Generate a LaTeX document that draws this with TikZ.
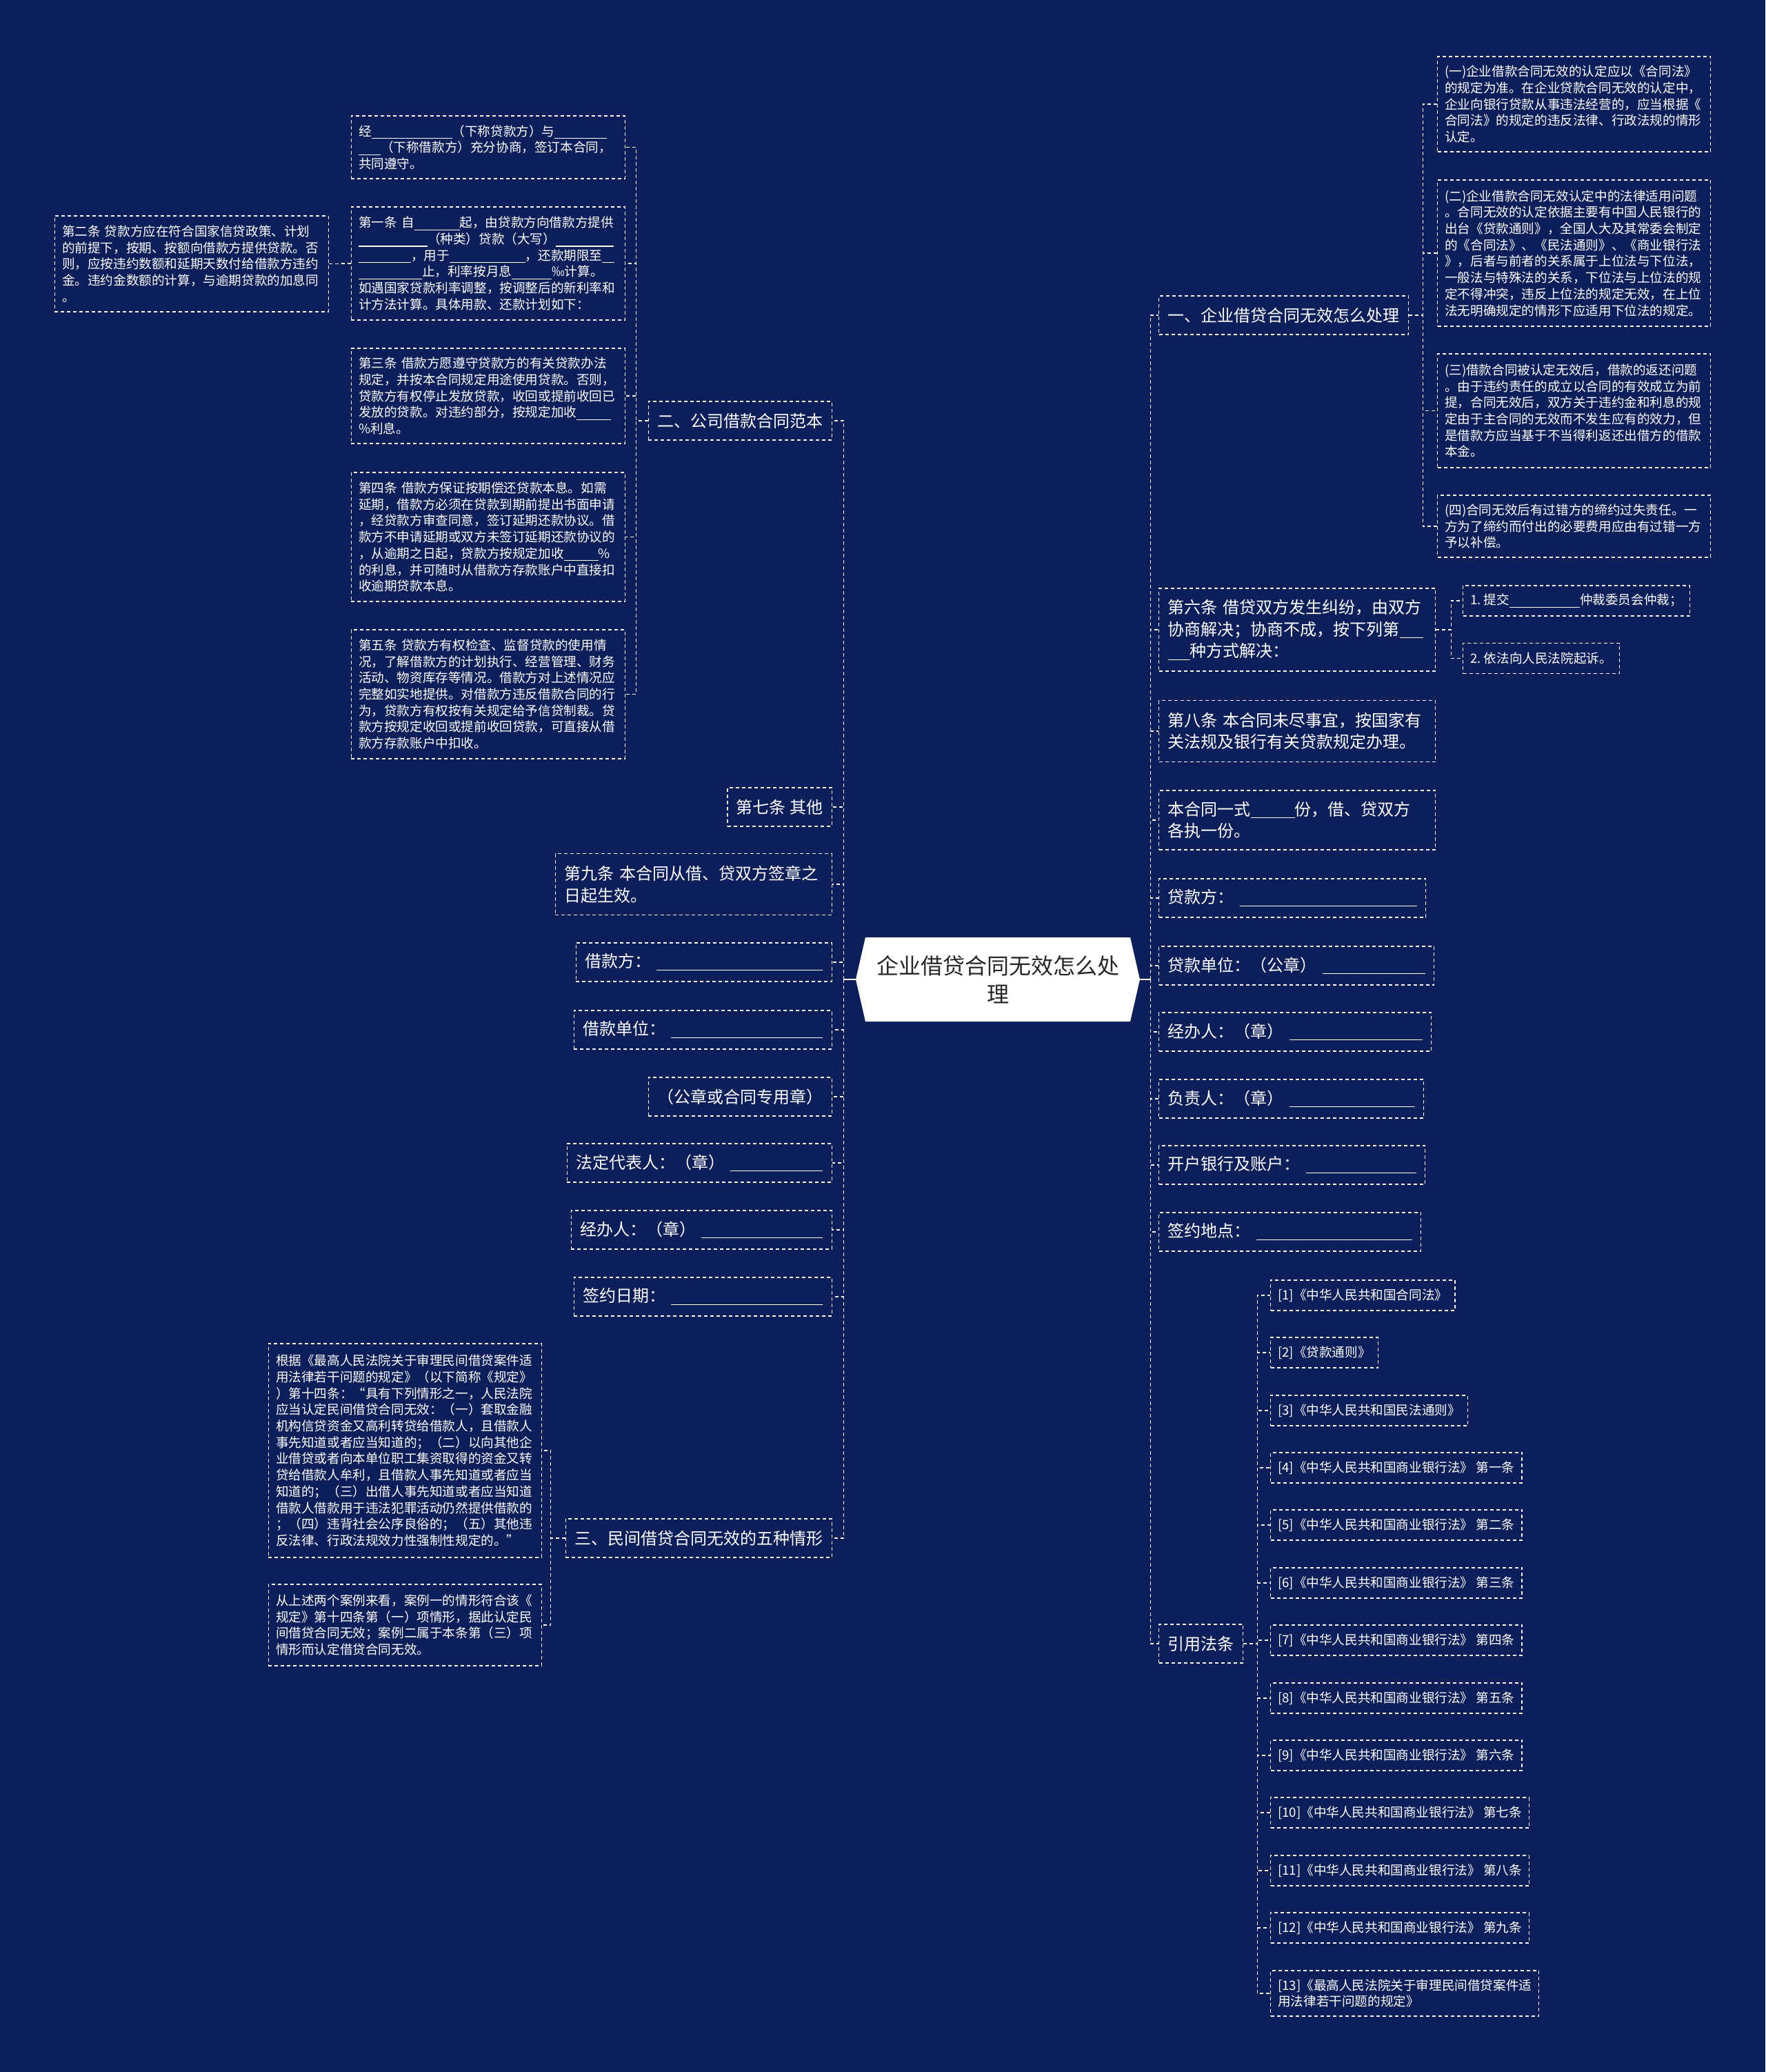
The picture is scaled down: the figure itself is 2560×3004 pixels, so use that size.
\documentclass[tikz,border=0pt]{standalone}
\usepackage{fontspec}
\setmainfont{Noto Sans CJK SC}
\usepackage{xcolor}
\usepackage{tikz}
\usetikzlibrary{positioning,calc}
\definecolor{bgnavy}{RGB}{12,31,91}
\colorlet{rootink}{black!85}
\tikzstyle{rootbox}=[text=rootink,font=\fontsize{16}{20.8}\selectfont,align=center,minimum width=206pt,minimum height=61pt,inner sep=0pt]
\tikzstyle{topic}=[draw=white,text=white,line width=0.7pt,dash pattern=on 2.5pt off 2pt,font=\fontsize{12}{15.8}\selectfont,inner xsep=6.5pt,inner ysep=3pt,minimum height=28pt,align=left]
\tikzstyle{note}=[draw=white,text=white,line width=0.6pt,dash pattern=on 2.5pt off 2pt,font=\fontsize{9.3}{11.85}\selectfont,inner xsep=5.3pt,inner ysep=3pt,align=left]
\tikzstyle{refitem}=[note,anchor=west,minimum height=22pt]
\tikzstyle{link}=[white,line width=0.7pt,dash pattern=on 2.5pt off 2pt]
\tikzstyle{stub}=[white,line width=1pt]
\newcommand{\lineblank}[1]{\rule[-2pt]{#1}{0.6pt}}
\newcommand{\linefill}{\hspace{4pt}\leaders\hrule height -1.6pt depth 2.2pt\hskip 0pt plus 1fill\hbox{}}

\begin{document}
\begin{tikzpicture}[x=0.5pt,y=-0.5pt]
	\fill[bgnavy] (0,0) rectangle (2560,3004);
	\useasboundingbox (0,0) rectangle (2560,3004);
	% centre
	\fill[white] (1241,1420) -- (1255,1359) -- (1639,1359) -- (1653,1420) -- (1639,1481) -- (1255,1481) -- cycle;
	\node[rootbox] (root) at (1447,1420) {企业借贷合同无效怎么处\\理};
	% left branch
	\node[topic,anchor=east] (tpl) at (1207,610) {二、公司借款合同范本};
	\node[note,anchor=east,text width=187.9pt,minimum height=45.5pt] (tplA) at (907,213.5) {经\lineblank{58.5pt}（下称贷款方）与\lineblank{38pt}\\\lineblank{16pt}（下称借款方）充分协商，签订本合同，\\共同遵守。};
	\node[note,anchor=east,text width=187.9pt,minimum height=82pt] (art1) at (907,382) {第一条~自\lineblank{33pt}起，由贷款方向借款方提供\\\lineblank{50pt}（种类）贷款（大写）\lineblank{42pt}\\\lineblank{38pt}，用于\lineblank{55pt}，还款期限至\lineblank{9pt}\\\lineblank{46pt}止，利率按月息\lineblank{29pt}‰计算。\\如遇国家贷款利率调整，按调整后的新利率和\\计方法计算。具体用款、还款计划如下：};
	\node[note,anchor=east,text width=187.9pt,minimum height=69.5pt] (art2) at (477,382.5) {第二条~贷款方应在符合国家信贷政策、计划\\的前提下，按期、按额向借款方提供贷款。否\\则，应按违约数额和延期天数付给借款方违约\\金。违约金数额的计算，与逾期贷款的加息同\\。};
	\node[note,anchor=east,text width=187.9pt,minimum height=69pt] (art3) at (907,574) {第三条~借款方愿遵守贷款方的有关贷款办法\\规定，并按本合同规定用途使用贷款。否则，\\贷款方有权停止发放贷款，收回或提前收回已\\发放的贷款。对违约部分，按规定加收\lineblank{25pt}\\\%利息。};
	\node[note,anchor=east,text width=187.9pt,minimum height=93.5pt] (art4) at (907,778.5) {第四条~借款方保证按期偿还贷款本息。如需\\延期，借款方必须在贷款到期前提出书面申请\\，经贷款方审查同意，签订延期还款协议。借\\款方不申请延期或双方未签订延期还款协议的\\，从逾期之日起，贷款方按规定加收\lineblank{25pt}\%\\的利息，并可随时从借款方存款账户中直接扣\\收逾期贷款本息。};
	\node[note,anchor=east,text width=187.9pt,minimum height=93.5pt] (art5) at (907,1006.5) {第五条~贷款方有权检查、监督贷款的使用情\\况，了解借款方的计划执行、经营管理、财务\\活动、物资库存等情况。借款方对上述情况应\\完整如实地提供。对借款方违反借款合同的行\\为，贷款方有权按有关规定给予信贷制裁。贷\\款方按规定收回或提前收回贷款，可直接从借\\款方存款账户中扣收。};
	\node[topic,anchor=east] (art7) at (1207,1170) {第七条~其他};
	\node[topic,anchor=east,text width=187.5pt,minimum height=44.5pt] (art9) at (1207,1282) {第九条~本合同从借、贷双方签章之\\日起生效。};
	\node[topic,anchor=east,text width=172.5pt] (borrower) at (1207,1395) {借款方：\linefill};
	\node[topic,anchor=east,text width=174pt] (bunit) at (1207,1493) {借款单位：\linefill};
	\node[topic,anchor=east] (seal) at (1207,1590) {（公章或合同专用章）};
	\node[topic,anchor=east,text width=179pt] (legal) at (1207,1686) {法定代表人：（章）\linefill};
	\node[topic,anchor=east,text width=176pt] (bagent) at (1207,1783) {经办人：（章）\linefill};
	\node[topic,anchor=east,text width=174pt] (bdate) at (1207,1880) {签约日期：\linefill};
	\node[topic,anchor=east] (five) at (1207,2230) {三、民间借贷合同无效的五种情形};
	\node[note,anchor=east,text width=187.4pt,minimum height=155pt] (fiveA) at (786,2103) {根据《最高人民法院关于审理民间借贷案件适\\用法律若干问题的规定》（以下简称《规定》\\）第十四条：“具有下列情形之一，人民法院\\应当认定民间借贷合同无效：（一）套取金融\\机构信贷资金又高利转贷给借款人，且借款人\\事先知道或者应当知道的；（二）以向其他企\\业借贷或者向本单位职工集资取得的资金又转\\贷给借款人牟利，且借款人事先知道或者应当\\知道的；（三）出借人事先知道或者应当知道\\借款人借款用于违法犯罪活动仍然提供借款的\\；（四）违背社会公序良俗的；（五）其他违\\反法律、行政法规效力性强制性规定的。”};
	\node[note,anchor=east,text width=187.4pt,minimum height=59pt] (fiveB) at (786,2356) {从上述两个案例来看，案例一的情形符合该《\\规定》第十四条第（一）项情形，据此认定民\\间借贷合同无效；案例二属于本条第（三）项\\情形而认定借贷合同无效。};
	% right branch
	\node[topic,anchor=west] (howto) at (1680,457) {一、企业借贷合同无效怎么处理};
	\node[note,anchor=west,text width=187.4pt,minimum height=69pt] (q1) at (2084,151) {(一)企业借款合同无效的认定应以《合同法》\\的规定为准。在企业贷款合同无效的认定中，\\企业向银行贷款从事违法经营的，应当根据《\\合同法》的规定的违反法律、行政法规的情形\\认定。};
	\node[note,anchor=west,text width=187.4pt,minimum height=106pt] (q2) at (2084,367) {(二)企业借款合同无效认定中的法律适用问题\\。合同无效的认定依据主要有中国人民银行的\\出台《贷款通则》，全国人大及其常委会制定\\的《合同法》、《民法通则》、《商业银行法\\》，后者与前者的关系属于上位法与下位法，\\一般法与特殊法的关系，下位法与上位法的规\\定不得冲突，违反上位法的规定无效，在上位\\法无明确规定的情形下应适用下位法的规定。};
	\node[note,anchor=west,text width=187.4pt,minimum height=82.5pt] (q3) at (2084,595.5) {(三)借款合同被认定无效后，借款的返还问题\\。由于违约责任的成立以合同的有效成立为前\\提，合同无效后，双方关于违约金和利息的规\\定由于主合同的无效而不发生应有的效力，但\\是借款方应当基于不当得利返还出借方的借款\\本金。};
	\node[note,anchor=west,text width=187.4pt,minimum height=45pt] (q4) at (2084,763) {(四)合同无效后有过错方的缔约过失责任。一\\方为了缔约而付出的必要费用应由有过错一方\\予以补偿。};
	\node[topic,anchor=west,text width=187.5pt,minimum height=60pt] (art6) at (1680,913) {第六条~借贷双方发生纠纷，由双方\\协商解决；协商不成，按下列第\lineblank{17pt}\\\lineblank{16pt}种方式解决：};
	\node[note,anchor=west,minimum height=22pt] (opt1) at (2121,871) {1.~提交\lineblank{51pt}仲裁委员会仲裁；};
	\node[note,anchor=west,minimum height=22pt] (opt2) at (2121,954.5) {2.~依法向人民法院起诉。};
	\node[topic,anchor=west,text width=187.5pt,minimum height=44.5pt] (art8) at (1680,1060) {第八条~本合同未尽事宜，按国家有\\关法规及银行有关贷款规定办理。};
	\node[topic,anchor=west,text width=187.5pt,minimum height=43pt] (copies) at (1680,1189) {本合同一式\lineblank{32pt}份，借、贷双方\\各执一份。};
	\node[topic,anchor=west,text width=180.5pt] (lender) at (1680,1302) {贷款方：\linefill};
	\node[topic,anchor=west,text width=186.5pt] (lunit) at (1680,1400) {贷款单位：（公章）\linefill};
	\node[topic,anchor=west,text width=184.5pt] (lagent) at (1680,1496) {经办人：（章）\linefill};
	\node[topic,anchor=west,text width=179pt] (lhead) at (1680,1593) {负责人：（章）\linefill};
	\node[topic,anchor=west,text width=180pt] (bank) at (1680,1689) {开户银行及账户：\linefill};
	\node[topic,anchor=west,text width=177pt] (place) at (1680,1786) {签约地点：\linefill};
	\node[topic,anchor=west] (laws) at (1680,2383) {引用法条};
	\node[refitem] (ref1) at (1842,1878) {[1]《中华人民共和国合同法》};
	\node[refitem] (ref2) at (1842,1961) {[2]《贷款通则》};
	\node[refitem] (ref3) at (1842,2045) {[3]《中华人民共和国民法通则》};
	\node[refitem] (ref4) at (1842,2128) {[4]《中华人民共和国商业银行法》 第一条};
	\node[refitem] (ref5) at (1842,2211) {[5]《中华人民共和国商业银行法》 第二条};
	\node[refitem] (ref6) at (1842,2295) {[6]《中华人民共和国商业银行法》 第三条};
	\node[refitem] (ref7) at (1842,2378) {[7]《中华人民共和国商业银行法》 第四条};
	\node[refitem] (ref8) at (1842,2462) {[8]《中华人民共和国商业银行法》 第五条};
	\node[refitem] (ref9) at (1842,2545) {[9]《中华人民共和国商业银行法》 第六条};
	\node[refitem] (ref10) at (1842,2628) {[10]《中华人民共和国商业银行法》 第七条};
	\node[refitem] (ref11) at (1842,2712) {[11]《中华人民共和国商业银行法》 第八条};
	\node[refitem] (ref12) at (1842,2795) {[12]《中华人民共和国商业银行法》 第九条};
	\node[refitem,minimum height=33pt] (ref13) at (1842,2890) {[13]《最高人民法院关于审理民间借贷案件适\\用法律若干问题的规定》};
	% centre links
	\draw[stub] (root.west) -- ++(-17,0);
	\draw[stub] (root.east) -- ++(15,0);
	\draw[link] (root.west) ++(-17,0) |- (tpl.east);
	\draw[link] (root.west) ++(-17,0) |- (art7.east);
	\draw[link] (root.west) ++(-17,0) |- (art9.east);
	\draw[link] (root.west) ++(-17,0) |- (borrower.east);
	\draw[link] (root.west) ++(-17,0) |- (bunit.east);
	\draw[link] (root.west) ++(-17,0) |- (seal.east);
	\draw[link] (root.west) ++(-17,0) |- (legal.east);
	\draw[link] (root.west) ++(-17,0) |- (bagent.east);
	\draw[link] (root.west) ++(-17,0) |- (bdate.east);
	\draw[link] (root.west) ++(-17,0) |- (five.east);
	\draw[link] (root.east) ++(15,0) |- (howto.west);
	\draw[link] (root.east) ++(15,0) |- (art6.west);
	\draw[link] (root.east) ++(15,0) |- (art8.west);
	\draw[link] (root.east) ++(15,0) |- (copies.west);
	\draw[link] (root.east) ++(15,0) |- (lender.west);
	\draw[link] (root.east) ++(15,0) |- (lunit.west);
	\draw[link] (root.east) ++(15,0) |- (lagent.west);
	\draw[link] (root.east) ++(15,0) |- (lhead.west);
	\draw[link] (root.east) ++(15,0) |- (bank.west);
	\draw[link] (root.east) ++(15,0) |- (place.west);
	\draw[link] (root.east) ++(15,0) |- (laws.west);
	% second level links
	\draw[link] (tpl.west) -- ++(-17,0) |- (tplA.east);
	\draw[link] (tpl.west) -- ++(-17,0) |- (art1.east);
	\draw[link] (tpl.west) -- ++(-17,0) |- (art3.east);
	\draw[link] (tpl.west) -- ++(-17,0) |- (art4.east);
	\draw[link] (tpl.west) -- ++(-17,0) |- (art5.east);
	\draw[link] (art1.west) -- ++(-16,0) |- (art2.east);
	\draw[link] (five.west) -- ++(-21,0) |- (fiveA.east);
	\draw[link] (five.west) -- ++(-21,0) |- (fiveB.east);
	\draw[link] (howto.east) -- ++(20,0) |- (q1.west);
	\draw[link] (howto.east) -- ++(20,0) |- (q2.west);
	\draw[link] (howto.east) -- ++(20,0) |- (q3.west);
	\draw[link] (howto.east) -- ++(20,0) |- (q4.west);
	\draw[link] (art6.east) -- ++(22,0) |- (opt1.west);
	\draw[link] (art6.east) -- ++(22,0) |- (opt2.west);
	\draw[link] (laws.east) -- ++(20,0) |- (ref1.west);
	\draw[link] (laws.east) -- ++(20,0) |- (ref2.west);
	\draw[link] (laws.east) -- ++(20,0) |- (ref3.west);
	\draw[link] (laws.east) -- ++(20,0) |- (ref4.west);
	\draw[link] (laws.east) -- ++(20,0) |- (ref5.west);
	\draw[link] (laws.east) -- ++(20,0) |- (ref6.west);
	\draw[link] (laws.east) -- ++(20,0) |- (ref7.west);
	\draw[link] (laws.east) -- ++(20,0) |- (ref8.west);
	\draw[link] (laws.east) -- ++(20,0) |- (ref9.west);
	\draw[link] (laws.east) -- ++(20,0) |- (ref10.west);
	\draw[link] (laws.east) -- ++(20,0) |- (ref11.west);
	\draw[link] (laws.east) -- ++(20,0) |- (ref12.west);
	\draw[link] (laws.east) -- ++(20,0) |- (ref13.west);
\end{tikzpicture}
\end{document}
